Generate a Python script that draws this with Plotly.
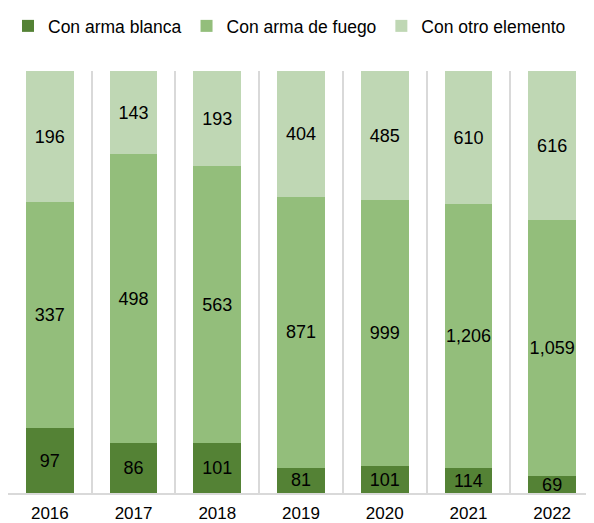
import plotly.graph_objects as go

years = ["2016", "2017", "2018", "2019", "2020", "2021", "2022"]
arma_blanca = [97, 86, 101, 81, 101, 114, 69]
arma_fuego = [337, 498, 563, 871, 999, 1206, 1059]
otro_elemento = [196, 143, 193, 404, 485, 610, 616]

series = [
    ("Con arma blanca", arma_blanca, "#548235"),
    ("Con arma de fuego", arma_fuego, "#93BE7B"),
    ("Con otro elemento", otro_elemento, "#BFD7B4"),
]

x = list(range(len(years)))
fig = go.Figure()
for name, vals, color in series:
    fig.add_trace(go.Bar(
        x=x, y=vals, name=name,
        marker=dict(color=color, line=dict(width=0)),
        text=[f"{v:,}" for v in vals],
        textposition="inside", insidetextanchor="middle", textangle=0,
        textfont=dict(color="black", size=18, family="Liberation Sans"),
        constraintext="none",
        hoverinfo="skip",
    ))

# page body has an 8px default margin, so the figure is 8px smaller
fig.update_layout(
    barmode="stack", barnorm="percent", bargap=0.43,
    width=586, height=515,
    margin=dict(l=0, r=0, t=63, b=30, autoexpand=False),
    paper_bgcolor="white", plot_bgcolor="white",
    font=dict(family="Liberation Sans", color="black"),
    uniformtext=dict(minsize=18, mode="show"),
    showlegend=True,
    legend=dict(orientation="h", x=-0.015, xanchor="left", xref="container",
                y=1.0, yanchor="top", yref="container",
                font=dict(size=17.5, family="Liberation Sans"), itemwidth=30,
                tracegroupgap=0, traceorder="normal"),
)
fig.update_xaxes(
    range=[-0.5, len(years) - 0.5],
    tickvals=x, ticktext=years, tickfont=dict(size=17),
    ticklabelstandoff=4,
    showgrid=False, zeroline=False,
    showline=True, linecolor="#D9D9D9", linewidth=2,
    ticks="",
    minor=dict(tickvals=[i - 0.5 for i in x], showgrid=True, gridcolor="#D9D9D9", gridwidth=2),
)
fig.update_yaxes(range=[0, 100], showticklabels=False, showgrid=False, zeroline=False)

fig.write_html("out.html")
